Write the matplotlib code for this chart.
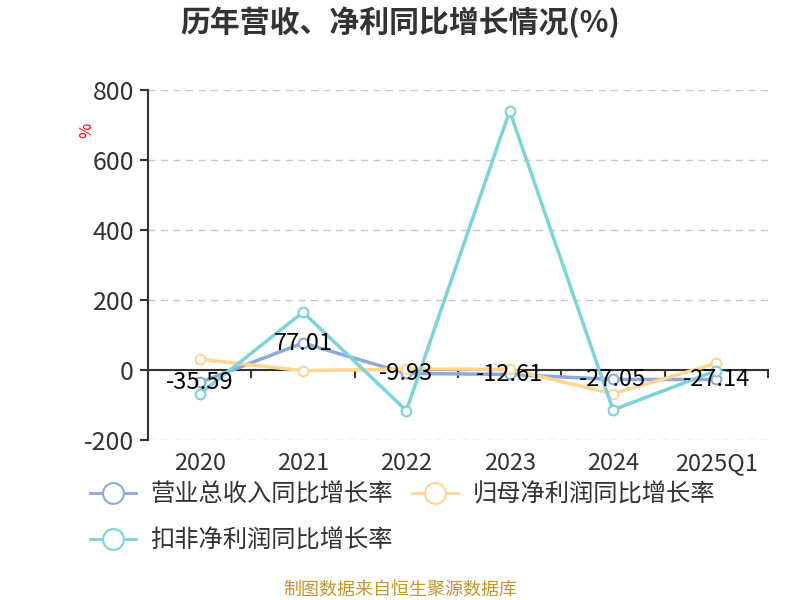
import matplotlib
matplotlib.use("Agg")
import matplotlib.pyplot as plt
from matplotlib.lines import Line2D

plt.rcParams['font.family'] = ['Noto Sans CJK SC', 'DejaVu Sans']

categories = ["2020", "2021", "2022", "2023", "2024", "2025Q1"]
revenue = [-35.59, 77.01, -9.93, -12.61, -27.05, -27.14]
net_profit = [31, -2, 3, 2, -68, 19]
deducted = [-69, 165, -116, 740, -114, -2]
names = ["营业总收入同比增长率", "归母净利润同比增长率", "扣非净利润同比增长率"]
colors = ["#8eaadb", "#ffd592", "#7dd3d9"]

fig = plt.figure(figsize=(8, 6), dpi=100)
ax = fig.add_axes([0.185, 0.2667, 0.775, 0.5833])
x = list(range(len(categories)))

series = [revenue, net_profit, deducted]
for vals, c in zip(series, colors):
    ax.plot(x, vals, color=c, lw=2.5, marker='o', ms=7, mfc='white',
            mec=c, mew=1.5, zorder=3)

for xi, v in zip(x, revenue):
    ax.text(xi, v, f"{v:.2f}", ha='center', va='center', fontsize=17,
            color='black', zorder=5)

ax.set_ylim(-200, 800)
ax.set_xlim(-0.5, len(categories) - 0.5)
ax.set_yticks([-200, 0, 200, 400, 600, 800])
ax.set_yticklabels(["-200", "0", "200", "400", "600", "800"])
ax.yaxis.grid(True, ls=(0, (5, 4)), color='#c8c8c8', lw=1)
ax.set_axisbelow(True)
ax.tick_params(axis='y', labelsize=18, labelcolor='#333333', length=6,
               color='#333333', width=1.5, pad=4)
for s in ['top', 'right']:
    ax.spines[s].set_visible(False)
ax.spines['left'].set_color('#333333')
ax.spines['left'].set_linewidth(1.5)
ax.spines['bottom'].set_position(('data', 0))
ax.spines['bottom'].set_color('#333333')
ax.spines['bottom'].set_linewidth(1.5)
ax.set_xticks([i + 0.5 for i in x])
ax.set_xticklabels([])
ax.tick_params(axis='x', length=6, color='#333333', width=1.5)

sec = ax.secondary_xaxis('bottom')
sec.set_xticks(x)
sec.set_xticklabels(categories)
sec.spines['bottom'].set_visible(False)
sec.tick_params(length=0, labelsize=17, labelcolor='#333333', pad=9)

ax.text(-0.098, 0.886, "%", transform=ax.transAxes, rotation=90,
        color='red', fontsize=12, ha='center', va='center')

fig.text(0.5, 0.963, "历年营收、净利同比增长情况(%)", ha='center', va='center',
         fontsize=21.5, fontweight='bold', color='#333333')

handles = [Line2D([0], [0], color=c, lw=2, marker='o', ms=15, mfc='white',
                  mec=c, mew=1.5) for c in colors]
order = [0, 2, 1]
fig.legend([handles[i] for i in order], [names[i] for i in order],
           loc='upper left', bbox_to_anchor=(0.112, 0.198), ncol=2,
           frameon=False, fontsize=17.5, handlelength=1.9, handletextpad=0.6,
           columnspacing=0.8, labelspacing=0.82, labelcolor='#333333',
           borderpad=0, borderaxespad=0)

fig.text(0.5, 0.018, "制图数据来自恒生聚源数据库", ha='center', va='center',
         fontsize=13, color='#c8962a')

fig.savefig("out.png", dpi=100)
